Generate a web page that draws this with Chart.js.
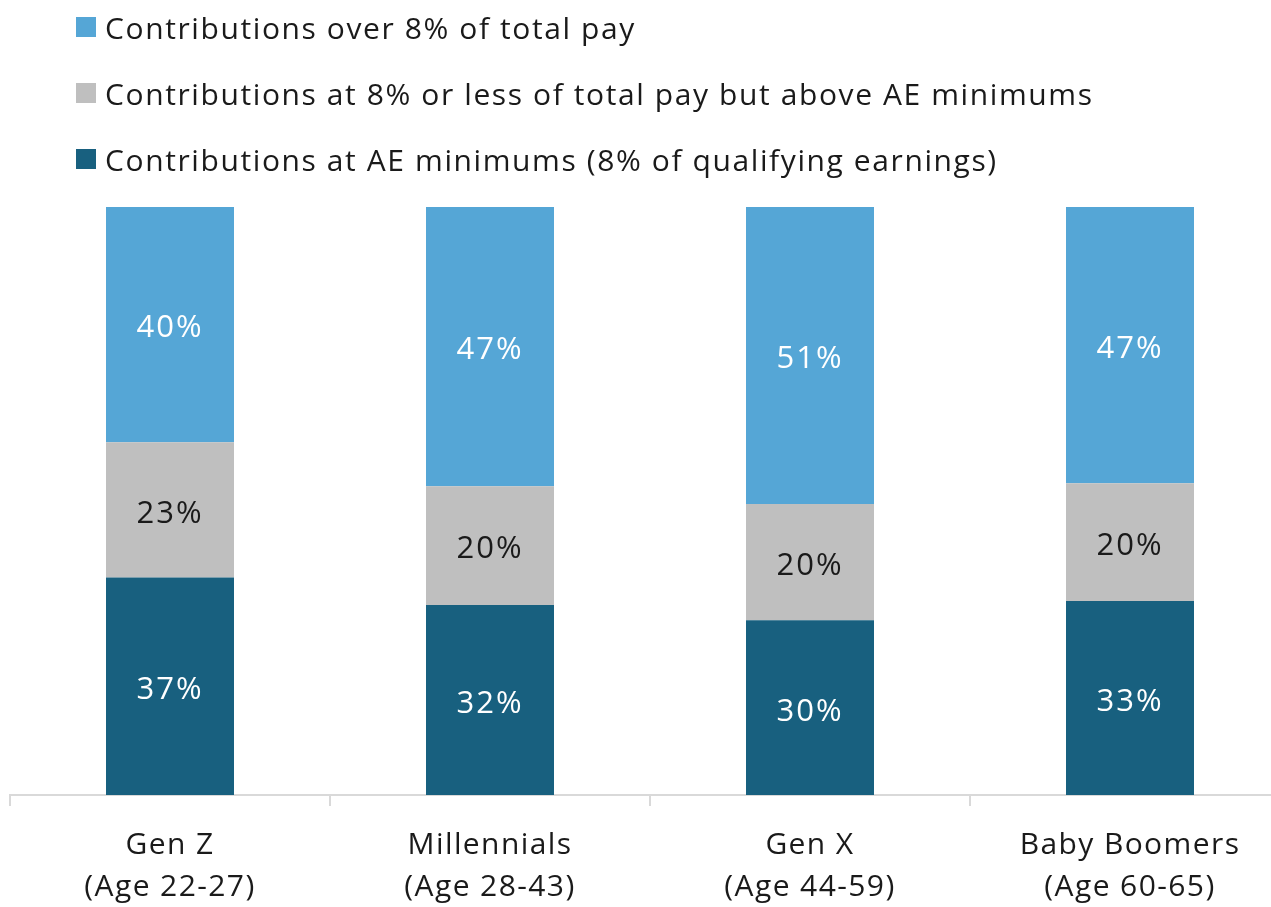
<!DOCTYPE html>
<html>
<head>
<meta charset="utf-8">
<script src="https://cdn.jsdelivr.net/npm/chart.js@4/dist/chart.umd.min.js"></script>
<style>
  html, body { margin: 0; padding: 0; background: #fff; overflow: hidden; }
  #wrap { position: relative; width: 1300px; height: 926px; }
  #chart { position: absolute; left: 0; top: 0; }
  #legend { position: absolute; left: 76px; top: 0; font-family: "Open Sans", sans-serif; font-size: 30px; letter-spacing: 1.6px; color: #1a1a1a; }
  .item { position: absolute; left: 0; display: flex; align-items: center; white-space: nowrap; height: 40px; }
  .box { width: 20px; height: 20px; margin-right: 9px; }
</style>
</head>
<body>
<div id="wrap">
  <canvas id="chart" width="1300" height="926"></canvas>
  <div id="legend"></div>
</div>
<script>
  // Categories (two-line tick labels)
  const categories = [
    ['Gen Z', '(Age 22-27)'],
    ['Millennials', '(Age 28-43)'],
    ['Gen X', '(Age 44-59)'],
    ['Baby Boomers', '(Age 60-65)']
  ];

  // Shares shown on the bars (%)
  const atMinimums = [37, 32, 30, 33];
  const belowEight = [23, 20, 20, 20];
  const overEight = [40, 47, 51, 47];

  const seriesNames = [
    'Contributions at AE minimums (8% of qualifying earnings)',
    'Contributions at 8% or less of total pay but above AE minimums',
    'Contributions over 8% of total pay'
  ];
  const seriesColors = ['#18607f', '#bfbfbf', '#55a6d6'];
  const labelColors = ['#ffffff', '#1a1a1a', '#ffffff'];

  const raw = [atMinimums, belowEight, overEight];

  // bars are drawn full height, so scale each column to 100
  const totals = categories.map((c, i) => raw.reduce((s, arr) => s + arr[i], 0));
  const scaled = raw.map(arr => arr.map((v, i) => v / totals[i] * 100));

  // HTML legend, top item first
  const legendEl = document.getElementById('legend');
  const rowCenters = [27, 93, 159];
  [2, 1, 0].forEach((k, row) => {
    const div = document.createElement('div');
    div.className = 'item';
    div.style.top = (rowCenters[row] - 20) + 'px';
    div.innerHTML = '<span class="box" style="background:' + seriesColors[k] + '"></span>' + seriesNames[k];
    legendEl.appendChild(div);
  });

  // wider spacing for the axis text, closer to the original typeface
  const spacing = {
    id: 'spacing',
    beforeLayout(chart) { chart.ctx.letterSpacing = '1.4px'; },
    beforeDraw(chart) { chart.ctx.letterSpacing = '1.4px'; }
  };

  // Value labels in the middle of each segment
  const barLabels = {
    id: 'barLabels',
    afterDatasetsDraw(chart) {
      const ctx = chart.ctx;
      ctx.save();
      ctx.font = '31px "Open Sans", sans-serif';
      ctx.letterSpacing = '2px';
      ctx.textAlign = 'center';
      ctx.textBaseline = 'middle';
      chart.data.datasets.forEach((ds, di) => {
        chart.getDatasetMeta(di).data.forEach((bar, i) => {
          const mid = (bar.y + bar.base) / 2;
          ctx.fillStyle = labelColors[di];
          ctx.fillText(raw[di][i] + '%', bar.x, mid + 4);
        });
      });
      ctx.restore();
    }
  };

  new Chart(document.getElementById('chart'), {
    type: 'bar',
    data: {
      labels: categories,
      datasets: scaled.map((vals, k) => ({
        label: seriesNames[k],
        data: vals,
        backgroundColor: seriesColors[k],
        borderWidth: 0,
        barPercentage: 0.4,
        categoryPercentage: 1
      }))
    },
    options: {
      responsive: false,
      animation: false,
      layout: { padding: { top: 207, left: 10, right: 10, bottom: 0 } },
      plugins: {
        legend: { display: false },
        tooltip: { enabled: false }
      },
      scales: {
        x: {
          stacked: true,
          border: { display: true, color: '#d9d9d9', width: 2 },
          grid: { display: true, drawOnChartArea: false, color: '#d9d9d9', lineWidth: 2, tickLength: 11, offset: true },
          ticks: {
            color: '#1a1a1a',
            padding: 18,
            font: { family: '"Open Sans", sans-serif', size: 30, lineHeight: 1.4 },
            maxRotation: 0
          }
        },
        y: {
          stacked: true,
          display: false,
          min: 0,
          max: 100
        }
      }
    },
    plugins: [spacing, barLabels]
  });
</script>
</body>
</html>
